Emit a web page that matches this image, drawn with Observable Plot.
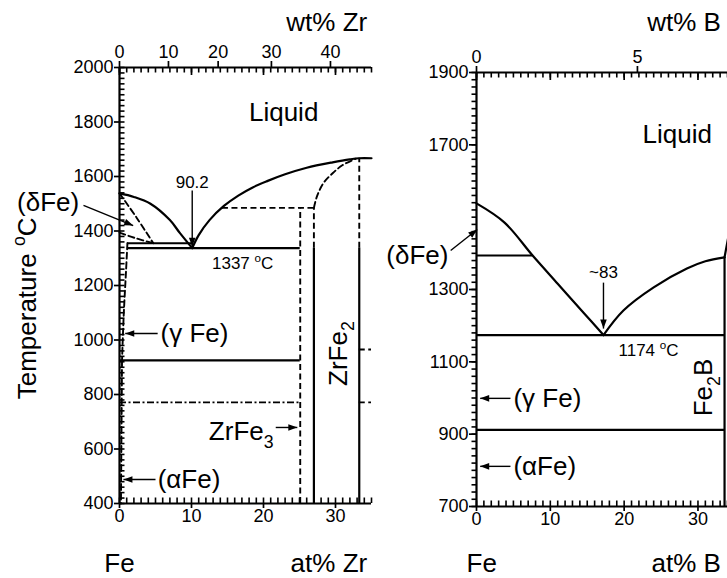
<!DOCTYPE html>
<html><head><meta charset="utf-8">
<script src="https://cdn.jsdelivr.net/npm/d3@7"></script>
<script src="https://cdn.jsdelivr.net/npm/@observablehq/plot@0.6"></script>
<style>
html,body{margin:0;padding:0;background:#fff;}
#wrap{position:relative;width:727px;height:578px;overflow:hidden;background:#fff;}
#wrap svg{position:absolute;top:0;overflow:visible;}
</style></head><body><div id="wrap"></div>
<script>
// ===== Fe–Zr panel (x: at% Zr, y: temperature °C) =====
const zrLiquidusFe    = [[0,1538],[2,1525],[4.3,1500],[7,1440],[8.4,1392],[10.1,1337]];
const zrLiquidusLaves = [[10.1,1337],[11,1385],[12.5,1440],[14.5,1492],[16.5,1530],[18.5,1560],[20.5,1583],[23,1608],[26,1632],[29.6,1652],[32,1663],[33.3,1667],[35,1667]];
const zrDeltaSolvus1  = [[0,1538],[2.4,1448],[4.7,1355]];
const zrDeltaSolvus2  = [[0,1394],[2.2,1374],[4.7,1355]];
const zrGammaSolvus   = [[1.1,1355],[0.9,1250],[0.6,1100],[0.45,1000],[0.35,925]];
const zrAlphaSolvus   = [[0.35,925],[0.2,400]];
const zrLavesLeft     = [[27.0,1485],[27.4,1525],[28.3,1575],[29.6,1612],[31,1642],[32.8,1665]];
const zrSolidIsoT  = [1355, 1337, 925];
const zrSolidIsoX1 = [1.1, 1.1, 0];
const zrSolidIsoX2 = [10.1, 25.1, 25.1];
const zrDashIsoT   = [1485, 965, 771];
const zrDashIsoX1  = [14.3, 33.3, 33.3];
const zrDashIsoX2  = [27.0, 35, 35];
const zrCurieT  = [771];
const zrCurieX1 = [0];
const zrCurieX2 = [25.1];
const zrDashVertX  = [25.1, 27.0, 33.3];
const zrDashVertY1 = [400, 1337, 1337];
const zrDashVertY2 = [1485, 1485, 1667];
const zrSolidVertX  = [27.0, 33.3];
const zrSolidVertY1 = [400, 400];
const zrSolidVertY2 = [1337, 1337];
const zrArrowX1 = [10.1, -5.0, 5.3, 5.0, 21.7];
const zrArrowY1 = [1549, 1494, 1024, 488, 679];
const zrArrowX2 = [10.1, 1.9, 0.8, 0.55, 24.7];
const zrArrowY2 = [1342, 1420, 1024, 488, 679];
const zrTempTicks = [400,600,800,1000,1200,1400,1600,1800,2000];
const zrAtTicks   = [0,10,20,30];
const zrWtLabels  = [0,10,20,30,40];
const zrWtAt      = [0,6.8,13.7,21.1,29.3];

// ===== Fe–B panel (x: at% B, y: temperature °C) =====
const bLiquidusFe   = [[0,1538],[3.8,1485],[7.6,1394],[11,1316],[14.5,1236],[17.2,1174]];
const bLiquidusFe2B = [[17.2,1174],[19.9,1242],[24,1306],[28.5,1358],[31,1378],[33.6,1389]];
const bLiquidusFeB  = [[33.6,1389],[34.2,1455]];
const bIsoT  = [1394, 1174, 912];
const bIsoX1 = [0, 0, 0];
const bIsoX2 = [7.6, 33.6, 33.6];
const bFe2BX = [33.6];
const bFe2BY1 = [700];
const bFe2BY2 = [1389];
const bArrowX1 = [-3.5, 17.2, 4.6, 4.6];
const bArrowY1 = [1408, 1319, 999, 811];
const bArrowX2 = [0.1, 17.2, 0.5, 0.5];
const bArrowY2 = [1466, 1192, 999, 811];
const bTempTicks = [700,900,1100,1300,1700,1900];
const bAtTicks   = [0,10,20,30];
const bWtLabels  = [0,5];
const bWtAt      = [0,21.8];

const FONT = '"Liberation Sans", Arial, Helvetica, sans-serif';
const TICK_FS = 18, BIG_FS = 26, NOTE_FS = 17;
const MINOR = 5.5;
const str = d => `${d}`;

function arrowHead(color) {
  const NS = "http://www.w3.org/2000/svg";
  const m = document.createElementNS(NS, "marker");
  m.setAttribute("viewBox", "-10 -5 10 10");
  m.setAttribute("markerWidth", "10");
  m.setAttribute("markerHeight", "10");
  m.setAttribute("markerUnits", "userSpaceOnUse");
  m.setAttribute("orient", "auto");
  m.setAttribute("refX", "0");
  m.setAttribute("refY", "0");
  const p = document.createElementNS(NS, "path");
  p.setAttribute("d", "M-9,-3.3L0,0L-9,3.3Z");
  p.setAttribute("fill", "black");
  p.setAttribute("stroke", "none");
  m.appendChild(p);
  return m;
}

function arrows(X1, Y1, X2, Y2, useMarkers) {
  const idx = X1.map((_, i) => i);
  const o = {x1: i => X1[i], y1: i => Y1[i], x2: i => X2[i], y2: i => Y2[i], stroke: "black", strokeWidth: 1.4};
  return useMarkers ? Plot.link(idx, {...o, markerEnd: arrowHead}) : Plot.arrow(idx, {...o, headLength: 8});
}
const P = d => d[0], Q = d => d[1];
const solid = {x: P, y: Q, stroke: "black", strokeWidth: 2.2, curve: "catmull-rom"};
const dashed = {x: P, y: Q, stroke: "black", strokeWidth: 1.9, strokeDasharray: "6,3.5", curve: "catmull-rom"};

function hRules(T, X1, X2, extra) {
  return Plot.ruleY(T, {y: d => d, x1: (d, i) => X1[i], x2: (d, i) => X2[i], stroke: "black", ...extra});
}
function vRules(X, Y1, Y2, extra) {
  return Plot.ruleX(X, {x: d => d, y1: (d, i) => Y1[i], y2: (d, i) => Y2[i], stroke: "black", ...extra});
}
function txt(s, x, y, opts) {
  return Plot.text([s], {x: () => x, y: () => y, text: d => d, fill: "black", ...opts});
}

function leftPanel(useMarkers) {
  const W = 371, H = 578, ml = 119, mt = 67, mb = 75;
  const fw = W - ml, fh = H - mt - mb;
  return Plot.plot({
    width: W, height: H, marginLeft: ml, marginRight: 0, marginTop: mt, marginBottom: mb,
    x: {domain: [0, 35]}, y: {domain: [400, 2000]},
    style: {fontFamily: FONT, fontSize: TICK_FS + "px", background: "transparent", overflow: "visible", color: "black"},
    marks: [
      Plot.ruleX([0], {stroke: "black", strokeWidth: 2.2}),
      Plot.ruleY([400, 2000], {stroke: "black", strokeWidth: 2.2}),
      Plot.tickY(d3.range(400, 2001, 20), {y: d => d, insetRight: fw - MINOR, stroke: "black", strokeWidth: 1.6}),
      Plot.tickX(d3.range(0, 35.1, 1), {x: d => d, insetTop: fh - MINOR, stroke: "black", strokeWidth: 1.6}),
      Plot.tickX(d3.range(0, 35.1, 1), {x: d => d, insetBottom: fh - MINOR, stroke: "black", strokeWidth: 1.6}),
      Plot.tickX(zrAtTicks, {x: d => d, insetBottom: fh - 8, stroke: "black", strokeWidth: 1.7}),
      Plot.axisY({ticks: zrTempTicks, anchor: "left", tickSize: 5, tickPadding: 1, label: null, fontSize: TICK_FS, strokeWidth: 1.7, tickFormat: str}),
      Plot.axisX({ticks: zrAtTicks, anchor: "bottom", tickSize: 5, tickPadding: 1, label: null, fontSize: TICK_FS, strokeWidth: 1.7, tickFormat: str}),
      Plot.axisX({ticks: zrWtAt, anchor: "top", tickSize: 7, tickPadding: 3, label: null, fontSize: TICK_FS, strokeWidth: 1.7,
        tickFormat: d => str(zrWtLabels[zrWtAt.indexOf(d)])}),
      Plot.line(zrLiquidusFe, solid),
      Plot.line(zrLiquidusLaves, solid),
      Plot.line(zrDeltaSolvus1, dashed),
      Plot.line(zrDeltaSolvus2, dashed),
      Plot.line(zrGammaSolvus, dashed),
      Plot.line(zrAlphaSolvus, dashed),
      Plot.line(zrLavesLeft, dashed),
      hRules(zrSolidIsoT, zrSolidIsoX1, zrSolidIsoX2, {strokeWidth: 2.2}),
      hRules(zrDashIsoT, zrDashIsoX1, zrDashIsoX2, {strokeWidth: 1.9, strokeDasharray: "6,3.5"}),
      hRules(zrCurieT, zrCurieX1, zrCurieX2, {strokeWidth: 1.9, strokeDasharray: "7,2.5,2,2.5"}),
      vRules(zrDashVertX, zrDashVertY1, zrDashVertY2, {strokeWidth: 1.9, strokeDasharray: "6,3.5"}),
      vRules(zrSolidVertX, zrSolidVertY1, zrSolidVertY2, {strokeWidth: 2.2}),
      arrows(zrArrowX1, zrArrowY1, zrArrowX2, zrArrowY2, useMarkers),
      txt("wt% Zr", 34.4, 2165, {fontSize: BIG_FS, textAnchor: "end"}),
      txt("Liquid", 22.8, 1835, {fontSize: BIG_FS}),
      txt("90.2", 10.1, 1578, {fontSize: NOTE_FS}),
      txt("1337 ^oC", 17.1, 1281, {fontSize: NOTE_FS}),
      txt("(δFe)", -5.6, 1503, {fontSize: BIG_FS, textAnchor: "end"}),
      txt("(γ Fe)", 5.7, 1022, {fontSize: BIG_FS, textAnchor: "start"}),
      txt("(αFe)", 5.3, 488, {fontSize: BIG_FS, textAnchor: "start"}),
      txt("ZrFe_3", 21.4, 664, {fontSize: BIG_FS, textAnchor: "end"}),
      txt("ZrFe_2", 30.4, 950, {fontSize: BIG_FS, rotate: -90}),
      txt("Temperature ^oC", -12.8, 1116, {fontSize: BIG_FS, rotate: -90}),
      txt("Fe", 0, 180, {fontSize: BIG_FS}),
      txt("at% Zr", 34.4, 180, {fontSize: BIG_FS, textAnchor: "end"})
    ]
  });
}

function rightPanel(useMarkers) {
  const W = 355, H = 578, ml = 104, mt = 72, mb = 72;
  const fw = W - ml, fh = H - mt - mb;
  return Plot.plot({
    width: W, height: H, marginLeft: ml, marginRight: 0, marginTop: mt, marginBottom: mb,
    x: {domain: [0, 34]}, y: {domain: [700, 1900]},
    style: {fontFamily: FONT, fontSize: TICK_FS + "px", background: "transparent", overflow: "visible", color: "black"},
    marks: [
      Plot.ruleX([0], {stroke: "black", strokeWidth: 2.2}),
      Plot.ruleY([700, 1900], {stroke: "black", strokeWidth: 2.2}),
      Plot.axisY({ticks: d3.range(700, 1901, 20), anchor: "left", tickSize: 4.5, tickPadding: 0, label: null, tickFormat: () => "", strokeWidth: 1.6}),
      Plot.tickX(d3.range(0, 34.1, 1), {x: d => d, insetTop: fh - MINOR, stroke: "black", strokeWidth: 1.6}),
      Plot.tickX(d3.range(0, 34.1, 1), {x: d => d, insetBottom: fh - MINOR, stroke: "black", strokeWidth: 1.6}),
      Plot.tickX(bAtTicks, {x: d => d, insetBottom: fh - 8, stroke: "black", strokeWidth: 1.7}),
      Plot.axisY({ticks: bTempTicks, anchor: "left", tickSize: 7, tickPadding: 1, label: null, fontSize: TICK_FS, strokeWidth: 1.7, tickFormat: str}),
      Plot.axisX({ticks: bAtTicks, anchor: "bottom", tickSize: 5, tickPadding: 1, label: null, fontSize: TICK_FS, strokeWidth: 1.7, tickFormat: str}),
      Plot.axisX({ticks: bWtAt, anchor: "top", tickSize: 7, tickPadding: 3, label: null, fontSize: TICK_FS, strokeWidth: 1.7,
        tickFormat: d => str(bWtLabels[bWtAt.indexOf(d)])}),
      Plot.line(bLiquidusFe, solid),
      Plot.line(bLiquidusFe2B, solid),
      Plot.line(bLiquidusFeB, solid),
      hRules(bIsoT, bIsoX1, bIsoX2, {strokeWidth: 2.2}),
      vRules(bFe2BX, bFe2BY1, bFe2BY2, {strokeWidth: 2.2}),
      arrows(bArrowX1, bArrowY1, bArrowX2, bArrowY2, useMarkers),
      txt("wt% B", 33.1, 2038, {fontSize: BIG_FS, textAnchor: "end"}),
      txt("Liquid", 27.2, 1729, {fontSize: BIG_FS}),
      txt("(δFe)", -3.8, 1394, {fontSize: BIG_FS, textAnchor: "end"}),
      txt("~83", 17.2, 1347, {fontSize: NOTE_FS}),
      txt("1174 ^oC", 23.3, 1131, {fontSize: NOTE_FS}),
      txt("(γ Fe)", 5.0, 999, {fontSize: BIG_FS, textAnchor: "start"}),
      txt("(αFe)", 5.0, 811, {fontSize: BIG_FS, textAnchor: "start"}),
      txt("Fe_2B", 30.8, 1029, {fontSize: BIG_FS, rotate: -90}),
      txt("Fe", 0.7, 542, {fontSize: BIG_FS}),
      txt("at% B", 33.1, 542, {fontSize: BIG_FS, textAnchor: "end"})
    ]
  });
}

function richText(root) {
  const NS = "http://www.w3.org/2000/svg";
  root.querySelectorAll("text").forEach(t => {
    if (t.querySelector("tspan")) return;
    const s = t.textContent;
    if (!/[_^]/.test(s)) return;
    const fs = parseFloat(getComputedStyle(t).fontSize) || 20;
    t.textContent = "";
    let cur = 0, buf = "";
    const add = (text, off, size) => {
      const sp = document.createElementNS(NS, "tspan");
      const d = off - cur;
      if (d) sp.setAttribute("dy", d.toFixed(2));
      if (size) sp.setAttribute("font-size", size.toFixed(1) + "px");
      sp.textContent = text;
      t.appendChild(sp);
      cur = off;
    };
    for (let i = 0; i < s.length; i++) {
      const c = s[i];
      if ((c === "_" || c === "^") && i + 1 < s.length) {
        if (buf) { add(buf, 0); buf = ""; }
        add(s[i + 1], c === "_" ? fs * 0.3 : -fs * 0.42, fs * 0.68);
        i++;
      } else buf += c;
    }
    if (buf) add(buf, 0);
  });
}

function build(useMarkers) {
  const wrap = document.getElementById("wrap");
  wrap.innerHTML = "";
  const a = leftPanel(useMarkers);
  const b = rightPanel(useMarkers);
  a.style.left = "0px";
  b.style.left = "372px";
  wrap.appendChild(a);
  wrap.appendChild(b);
  richText(wrap);
}
try { build(true); } catch (e) { console.error(e); build(false); }
</script>
</body></html>
